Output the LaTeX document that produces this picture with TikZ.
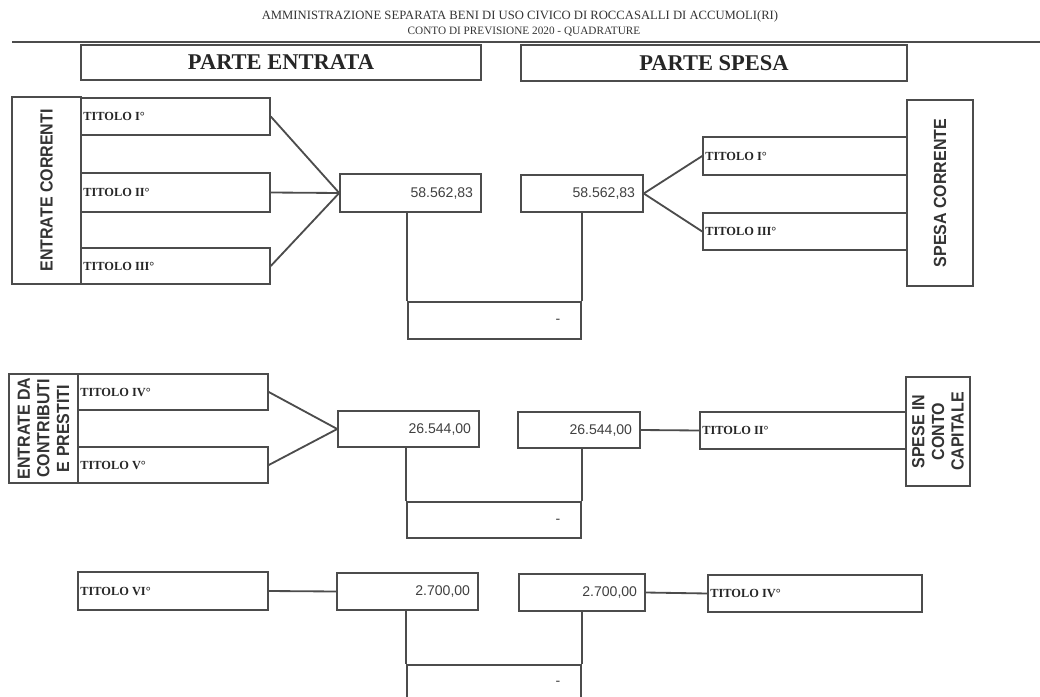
\documentclass[tikz,border=0pt]{standalone}
\usepackage{fontspec}
\setmainfont{Liberation Serif}
\newfontfamily\titfont{Liberation Serif}
\newfontfamily\vertfont[FakeStretch=0.91]{Liberation Sans}
\newfontfamily\numfont{Liberation Sans}
\usetikzlibrary{fit}

\tikzset{
  box/.style={draw=black!70, line width=1.1pt, inner sep=0pt},
  tit/.style={anchor=west, inner sep=2pt, text=black!85,
    font=\titfont\bfseries\fontsize{8.8}{10}\selectfont},
  num/.style={anchor=east, inner sep=6pt, text=black!75,
    font=\numfont\fontsize{10}{11}\selectfont},
  vert/.style={rotate=90, align=center, text=black!80,
    font=\vertfont\bfseries\fontsize{12.5}{14}\selectfont},
  head/.style={text=black!85, font=\bfseries\fontsize{16}{17}\selectfont},
  link/.style={draw=black!70, line width=1.3pt},
}

\begin{document}
\begin{tikzpicture}[x=0.025cm, y=-0.025cm]
    \clip (0,0) rectangle (1040,697);

    % intestazione
    \node[text=black!80, font=\fontsize{9}{10}\selectfont] (tit1) at (520,16)
      {AMMINISTRAZIONE SEPARATA BENI DI USO CIVICO DI ROCCASALLI DI ACCUMOLI(RI)};
    \node[text=black!80, font=\fontsize{8}{10}\selectfont] (tit2) at (524,32)
      {CONTO DI PREVISIONE 2020 - QUADRATURE};
    \coordinate (rl) at (12,42);
    \coordinate (rr) at (1040,42);
    \draw[link, line width=1pt] (rl) -- (rr);

    \node[box, fit={(81,45)(481,80)}] (pe) {};
    \node[head] (pet) at (pe.center) {PARTE ENTRATA};
    \node[box, fit={(521,45)(907,81)}] (ps) {};
    \node[head] (pst) at (ps.center) {PARTE SPESA};

    % entrate correnti
    \node[box, fit={(12,97)(81,284)}] (ec) {};
    \node[vert] (ect) at (ec.center) {ENTRATE CORRENTI};
    \node[box, fit={(81,98)(270,135)}] (eI) {};
    \node[tit] (eIt) at (eI.west) {TITOLO I°};
    \node[box, fit={(81,173)(270,212)}] (eII) {};
    \node[tit] (eIIt) at (eII.west) {TITOLO II°};
    \node[box, fit={(81,248)(270,284)}] (eIII) {};
    \node[tit] (eIIIt) at (eIII.west) {TITOLO III°};

    \node[box, fit={(340,174)(481,212)}] (te1) {};
    \node[num] (te1t) at (te1.east) {58.562,83};
    \draw[link] (eI.east) -- (te1.west);
    \draw[link] (eII.east) -- (te1.west);
    \draw[link] (eIII.east) -- (te1.west);

    % spesa corrente
    \node[box, fit={(521,175)(643,212)}] (ts1) {};
    \node[num] (ts1t) at (ts1.east) {58.562,83};
    \node[box, fit={(703,137)(907,175)}] (sI) {};
    \node[tit] (sIt) at (sI.west) {TITOLO I°};
    \node[box, fit={(703,213)(907,250)}] (sIII) {};
    \node[tit] (sIIIt) at (sIII.west) {TITOLO III°};
    \node[box, fit={(907,100)(973,286)}] (sc) {};
    \node[vert] (sct) at (sc.center) {SPESA CORRENTE};
    \draw[link] (ts1.east) -- (sI.west);
    \draw[link] (ts1.east) -- (sIII.west);

    \node[box, fit={(408,302)(581,339)}] (d1) {};
    \node[num, anchor=center, inner sep=0pt] (d1t) at (558,321) {-};
    \draw[link] (d1.north west |- te1.south) -- (d1.north west);
    \draw[link] (d1.north east |- ts1.south) -- (d1.north east);

    % entrate da contributi e prestiti
    \node[box, fit={(9,374)(78,483)}] (ed) {};
    \node[vert] (edt) at (ed.center) {ENTRATE DA\\CONTRIBUTI\\E PRESTITI};
    \node[box, fit={(78,374)(268,410)}] (eIV) {};
    \node[tit] (eIVt) at (eIV.west) {TITOLO IV°};
    \node[box, fit={(78,447)(268,483)}] (eV) {};
    \node[tit] (eVt) at (eV.west) {TITOLO V°};

    \node[box, fit={(338,411)(479,447)}] (te2) {};
    \node[num] (te2t) at (te2.east) {26.544,00};
    \draw[link] (eIV.east) -- (te2.west);
    \draw[link] (eV.east) -- (te2.west);

    % spese in conto capitale
    \node[box, fit={(518,412)(640,448)}] (ts2) {};
    \node[num] (ts2t) at (ts2.east) {26.544,00};
    \node[box, fit={(700,412)(906,449)}] (sII) {};
    \node[tit] (sIIt) at (sII.west) {TITOLO II°};
    \node[box, fit={(906,377)(970,486)}] (sk) {};
    \node[vert] (skt) at (sk.center) {SPESE IN\\CONTO\\CAPITALE};
    \draw[link] (ts2.east) -- (sII.west);

    \node[box, fit={(407,502)(581,538)}] (d2) {};
    \node[num, anchor=center, inner sep=0pt] (d2t) at (558,521) {-};
    \draw[link] (d2.north west |- te2.south) -- (d2.north west);
    \draw[link] (d2.north east |- ts2.south) -- (d2.north east);

    % titolo VI e titolo IV
    \node[box, fit={(78,572)(268,610)}] (eVI) {};
    \node[tit] (eVIt) at (eVI.west) {TITOLO VI°};
    \node[box, fit={(337,573)(478,610)}] (te3) {};
    \node[num] (te3t) at (te3.east) {2.700,00};
    \draw[link] (eVI.east) -- (te3.west);

    \node[box, fit={(519,574)(645,611)}] (ts3) {};
    \node[num] (ts3t) at (ts3.east) {2.700,00};
    \node[box, fit={(708,575)(922,612)}] (sIV) {};
    \node[tit] (sIVt) at (sIV.west) {TITOLO IV°};
    \draw[link] (ts3.east) -- (sIV.west);

    \node[box, fit={(407,665)(581,715)}] (d3) {};
    \node[num, anchor=center, inner sep=0pt] (d3t) at (558,683) {-};
    \draw[link] (d3.north west |- te3.south) -- (d3.north west);
    \draw[link] (d3.north east |- ts3.south) -- (d3.north east);
\end{tikzpicture}
\end{document}
